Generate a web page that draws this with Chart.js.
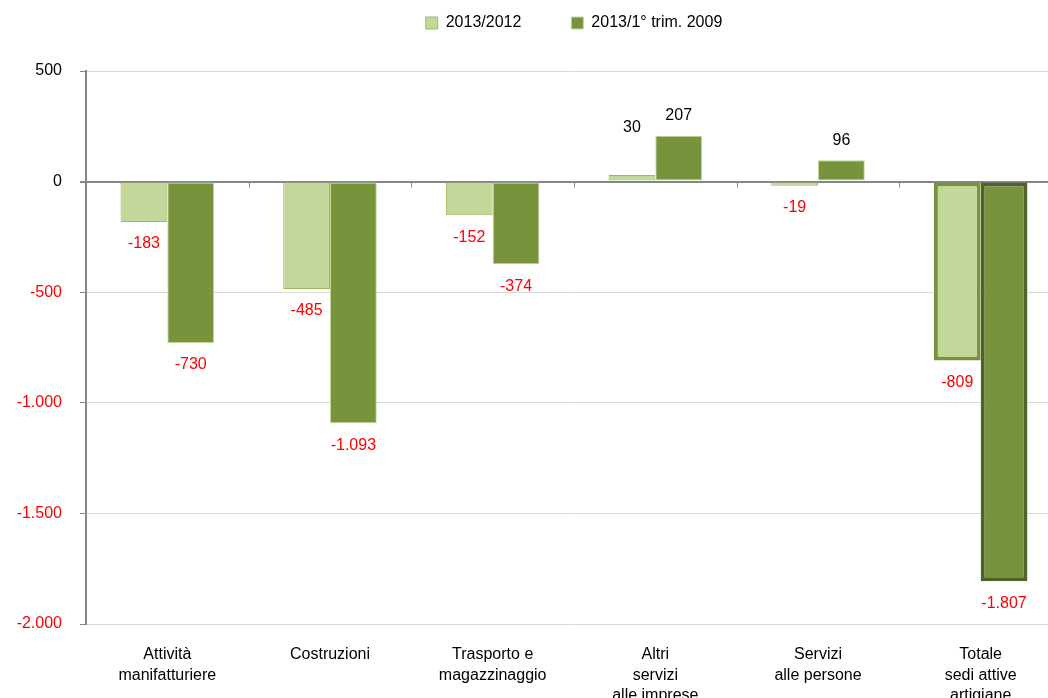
<!DOCTYPE html>
<html>
<head>
<meta charset="utf-8">
<script src="https://cdn.jsdelivr.net/npm/chart.js@4.4.1/dist/chart.umd.min.js"></script>
<style>
  html, body { margin: 0; padding: 0; background: #fff; }
  #wrap { width: 1048px; height: 698px; overflow: hidden; }
</style>
</head>
<body>
<div id="wrap"><canvas id="myChart" width="1062" height="698"></canvas></div>
<script>
const categories = [
  ['Attività', 'manifatturiere'],
  ['Costruzioni'],
  ['Trasporto e', 'magazzinaggio'],
  ['Altri', 'servizi', 'alle imprese'],
  ['Servizi', 'alle persone'],
  ['Totale', 'sedi attive', 'artigiane']
]
const seriesNames = ['2013/2012', '2013/1° trim. 2009']
const vs2012 = [-183, -485, -152, 30, -19, -809]
const vs2009 = [-730, -1093, -374, 207, 96, -1807]
const yTicks = [500, 0, -500, -1000, -1500, -2000]

const fmt = v => {
  const s = Math.abs(v).toString().replace(/\B(?=(\d{3})+(?!\d))/g, '.')
  return (v < 0 ? '-' : '') + s
}

const FONT = "'Liberation Sans', Arial, sans-serif"
const lastIdx = categories.length - 1
const LEGEND_PAD = 50

// move the legend up, leaving the chart area where it is
const legendShift = {
  id: 'legendShift',
  afterLayout(chart) {
    const lg = chart.legend
    const dy = 22 - (lg.top + LEGEND_PAD + 7)
    lg.top += dy
    lg.bottom += dy
  }
}

// value labels drawn at the end of each bar
const valueLabels = {
  id: 'valueLabels',
  afterDatasetsDraw(chart) {
    const c = chart.ctx
    c.save()
    c.font = '16px ' + FONT
    c.textAlign = 'center'
    c.textBaseline = 'middle'
    chart.data.datasets.forEach((ds, di) => {
      const meta = chart.getDatasetMeta(di)
      meta.data.forEach((bar, i) => {
        const v = ds.data[i]
        let y = v < 0 ? bar.y + 22 : bar.y - 20
        if (di === 0 && i === 3) y = bar.y - 47   // label sits higher in the original
        c.fillStyle = v < 0 ? '#ff0000' : '#000000'
        c.fillText(fmt(v), bar.x, y)
      })
    })
    // small category ticks on the zero line
    const xs = chart.scales.x, ys = chart.scales.y
    const y0 = ys.getPixelForValue(0)
    c.strokeStyle = '#868686'
    c.lineWidth = 1
    for (let i = 0; i < categories.length - 1; i++) {
      const x = Math.round((xs.getPixelForValue(i) + xs.getPixelForValue(i + 1)) / 2) + 0.5
      c.beginPath()
      c.moveTo(x, y0)
      c.lineTo(x, y0 + 6)
      c.stroke()
    }
    c.restore()
  }
}

new Chart(document.getElementById('myChart'), {
  type: 'bar',
  data: {
    labels: categories,
    datasets: [{
      label: seriesNames[0],
      data: vs2012,
      backgroundColor: '#c4d79b',
      borderColor: ctx => ctx.dataIndex === lastIdx ? '#77933c' : '#9bbb59',
      borderWidth: ctx => ctx.dataIndex === lastIdx ? 4 : 1,
      borderSkipped: false
    }, {
      label: seriesNames[1],
      data: vs2009,
      backgroundColor: '#77933c',
      borderColor: ctx => ctx.dataIndex === lastIdx ? '#4f6228' : '#c4d79b',
      borderWidth: ctx => ctx.dataIndex === lastIdx ? 4 : 1,
      borderSkipped: false
    }]
  },
  options: {
    responsive: false,
    animation: false,
    categoryPercentage: 0.575,
    barPercentage: 1,
    layout: { padding: { top: -20, right: 0, left: 0, bottom: 0 } },
    plugins: {
      legend: {
        fullSize: false,
        labels: {
          font: { family: FONT, size: 16 },
          color: '#000',
          boxWidth: 12,
          boxHeight: 12,
          padding: LEGEND_PAD
        }
      },
      tooltip: { enabled: false }
    },
    scales: {
      x: {
        grid: { display: false },
        border: { display: false },
        ticks: {
          font: { family: FONT, size: 16, lineHeight: 1.3 },
          color: '#000',
          padding: 12,
          maxRotation: 0,
          autoSkip: false
        },
        afterFit(scale) { scale.height = 74 }
      },
      y: {
        min: -2000,
        max: 500,
        afterBuildTicks(scale) { scale.ticks = yTicks.map(v => ({ value: v })) },
        grid: {
          color: ctx => ctx.tick && ctx.tick.value === 0 ? '#868686' : '#d9d9d9',
          lineWidth: ctx => ctx.tick && ctx.tick.value === 0 ? 2 : 1,
          tickColor: '#868686',
          tickLength: 6
        },
        border: { color: '#868686', width: 2 },
        ticks: {
          font: { family: FONT, size: 16 },
          color: ctx => ctx.tick.value < 0 ? '#ff0000' : '#000',
          padding: 18,
          callback: v => fmt(v)
        },
        afterFit(scale) {
          scale.width = 86
          scale.paddingTop = 71
        }
      }
    }
  },
  plugins: [valueLabels, legendShift]
})
</script>
</body>
</html>
